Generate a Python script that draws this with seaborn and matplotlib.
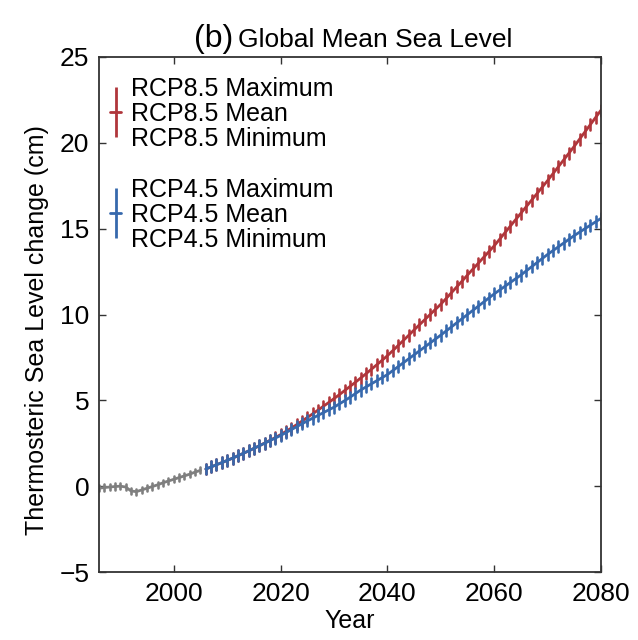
import matplotlib
matplotlib.use("Agg")
import matplotlib.pyplot as plt
import numpy as np
import pandas as pd
import seaborn as sns
from matplotlib.collections import LineCollection
from matplotlib.container import ErrorbarContainer
from matplotlib.legend_handler import HandlerErrorbar
from matplotlib.lines import Line2D

# ---- data (cm, relative to the 1986-2005 baseline) ----
hist_years = list(range(1986, 2006))
hist_mean = [-0.12, -0.08, -0.05, -0.02, 0.00, -0.05, -0.28, -0.32, -0.22, -0.12,
             -0.02, 0.08, 0.20, 0.30, 0.40, 0.50, 0.60, 0.70, 0.82, 0.92]
hist_spread = 0.18

rcp_years = list(range(2006, 2081))
rcp85_mean = [1.00, 1.12, 1.25, 1.37, 1.50, 1.63, 1.77, 1.91, 2.05, 2.20,
              2.35, 2.51, 2.67, 2.83, 3.00, 3.19, 3.38, 3.58, 3.79, 4.00,
              4.21, 4.43, 4.65, 4.87, 5.10, 5.33, 5.57, 5.81, 6.05, 6.30,
              6.55, 6.81, 7.07, 7.33, 7.60, 7.89, 8.19, 8.49, 8.79, 9.10,
              9.40, 9.70, 10.00, 10.30, 10.60, 10.93, 11.27, 11.61, 11.95, 12.30,
              12.64, 12.98, 13.32, 13.66, 14.00, 14.38, 14.76, 15.14, 15.52, 15.90,
              16.28, 16.66, 17.04, 17.42, 17.80, 18.20, 18.60, 19.00, 19.40, 19.80,
              20.22, 20.64, 21.06, 21.48, 21.90]
rcp85_spread = 0.32

rcp45_mean = [1.00, 1.12, 1.25, 1.37, 1.50, 1.63, 1.77, 1.91, 2.05, 2.20,
              2.35, 2.50, 2.65, 2.80, 2.95, 3.12, 3.29, 3.46, 3.63, 3.80,
              3.96, 4.12, 4.28, 4.44, 4.60, 4.79, 4.98, 5.18, 5.39, 5.60,
              5.78, 5.96, 6.14, 6.32, 6.50, 6.73, 6.96, 7.19, 7.42, 7.65,
              7.88, 8.11, 8.34, 8.57, 8.80, 9.04, 9.28, 9.52, 9.76, 10.00,
              10.24, 10.48, 10.72, 10.96, 11.20, 11.42, 11.64, 11.86, 12.08, 12.30,
              12.54, 12.78, 13.02, 13.26, 13.50, 13.72, 13.94, 14.16, 14.38, 14.60,
              14.80, 15.00, 15.20, 15.40, 15.60]
rcp45_spread = 0.32

legend_labels = {
    "RCP8.5": ["RCP8.5 Maximum", "RCP8.5 Mean", "RCP8.5 Minimum"],
    "RCP4.5": ["RCP4.5 Maximum", "RCP4.5 Mean", "RCP4.5 Minimum"],
}

colors = {"Historical": "#7f7f7f", "RCP8.5": "#b0363b", "RCP4.5": "#3769ad"}


def long_form(name, years, mean, spread):
    """Minimum / mean / maximum ensemble members for every year."""
    mean = np.asarray(mean)
    parts = []
    for stat, vals in (("Minimum", mean - spread), ("Mean", mean), ("Maximum", mean + spread)):
        parts.append(pd.DataFrame({"year": years, "value": vals,
                                   "stat": stat, "scenario": name}))
    return pd.concat(parts, ignore_index=True)


df = pd.concat([
    long_form("Historical", hist_years, hist_mean, hist_spread),
    long_form("RCP8.5", rcp_years, rcp85_mean, rcp85_spread),
    long_form("RCP4.5", rcp_years, rcp45_mean, rcp45_spread),
], ignore_index=True)

sns.set_theme(style="ticks")
plt.rcParams["font.family"] = ["Liberation Sans", "DejaVu Sans"]
plt.rcParams["text.color"] = "black"
plt.rcParams["axes.labelcolor"] = "black"

fig = plt.figure(figsize=(6.38, 6.40), dpi=100)
ax = fig.add_axes([99 / 638, 1 - 572 / 640, 502 / 638, 515 / 640])

sns.lineplot(
    data=df, x="year", y="value", hue="scenario",
    hue_order=["Historical", "RCP8.5", "RCP4.5"], palette=colors,
    estimator="median", errorbar=("pi", 100), err_style="bars",
    err_kws={"elinewidth": 1.9}, linewidth=2.0, legend=False, ax=ax,
)

ax.set_xlim(1986, 2080)
ax.set_ylim(-5, 25)
ax.set_xticks([2000, 2020, 2040, 2060, 2080])
ax.set_yticks([-5, 0, 5, 10, 15, 20, 25])
ax.set_yticklabels(["\u22125", "0", "5", "10", "15", "20", "25"])
ax.tick_params(direction="in", top=True, right=True, length=5, width=1.0,
               labelsize=19, pad=7, colors="#333333", labelcolor="black")
for s in ax.spines.values():
    s.set_linewidth(1.3)
    s.set_color("#333333")

ax.set_xlabel("Year", fontsize=18, labelpad=2)
ax.set_ylabel("Thermosteric Sea Level change (cm)", fontsize=18)
ax.yaxis.set_label_coords(-0.1, 0.47)

# title: larger panel letter followed by the title proper
fig.text(194 / 638, 1 - 47 / 640, "(b)", fontsize=23, ha="left", va="baseline")
fig.text(238 / 638, 1 - 47 / 640, "Global Mean Sea Level", fontsize=19,
         ha="left", va="baseline")


def key(color):
    data_line = Line2D([], [], color=color, linewidth=2.0)
    bars = LineCollection([], colors=[color], linewidths=2.0)
    return ErrorbarContainer((data_line, (), (bars,)), has_xerr=False, has_yerr=True)


blank = Line2D([], [], linestyle="none")
handles = [blank, key(colors["RCP8.5"]), blank, blank,
           blank, key(colors["RCP4.5"]), blank]
labels = legend_labels["RCP8.5"] + [" "] + legend_labels["RCP4.5"]
ax.legend(handles, labels, loc="upper left", bbox_to_anchor=(0.022, 0.962),
          frameon=False, fontsize=18, handlelength=0.45, handletextpad=0.4,
          labelspacing=0.05, borderaxespad=0, borderpad=0,
          handler_map={ErrorbarContainer: HandlerErrorbar(xerr_size=0.5, yerr_size=1.0)})

fig.savefig("out.png", dpi=100)
